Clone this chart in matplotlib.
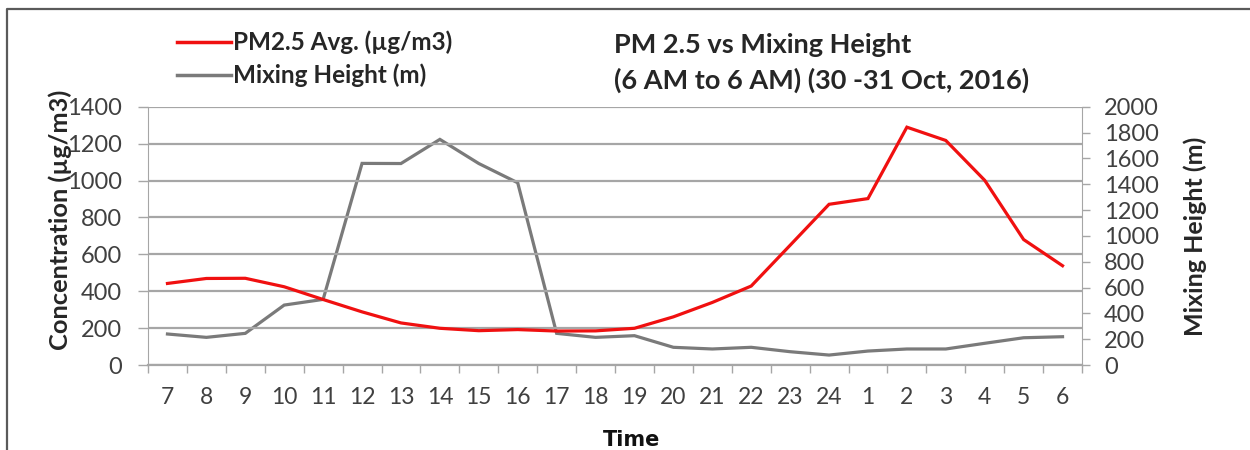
import matplotlib
matplotlib.use("Agg")
import matplotlib.pyplot as plt
from matplotlib.lines import Line2D
import numpy as np

# Hourly observations, 6 AM 30 Oct to 6 AM 31 Oct 2016
hours = ["7", "8", "9", "10", "11", "12", "13", "14", "15", "16", "17", "18",
         "19", "20", "21", "22", "23", "24", "1", "2", "3", "4", "5", "6"]
pm25 = [442, 469, 470, 424, 355, 288, 228, 199, 186, 192, 184, 185,
        199, 261, 339, 428, 649, 871, 902, 1289, 1217, 1001, 680, 538]
mixing_height = [240, 214, 245, 464, 508, 1561, 1560, 1747, 1560, 1411, 245, 214,
                 227, 137, 124, 137, 103, 77, 108, 124, 124, 168, 211, 219]

left_ticks = [0, 200, 400, 600, 800, 1000, 1200, 1400]
right_ticks = [0, 200, 400, 600, 800, 1000, 1200, 1400, 1600, 1800, 2000]

FONT = "Lato"
AX_GRAY = "#a6a6a6"
TXT = "#404040"
LBL = "#262626"
W, H = 1250, 450


def fx(px):
    return px / W


def fy(py):
    return 1 - py / H


fig = plt.figure(figsize=(12.5, 4.5), dpi=100)
ax = fig.add_axes([fx(148), fy(365), fx(1082 - 148), (365 - 106.7) / H])
ax2 = ax.twinx()

x = np.arange(len(hours))
ax.plot(x, pm25, color="#f01010", lw=2.3, zorder=4, solid_joinstyle="miter")
ax2.plot(x, mixing_height, color="#7a7a7a", lw=2.3, zorder=3, solid_joinstyle="miter")
ax.set_zorder(ax2.get_zorder() + 1)
ax.patch.set_visible(False)

ax.set_xlim(-0.5, len(hours) - 0.5)
ax.set_ylim(0, 1400)
ax2.set_ylim(0, 2000)

ax.set_yticks(left_ticks)
ax2.set_yticks(right_ticks)
ax.grid(axis="y", color=AX_GRAY, lw=1.6)
ax.set_axisbelow(True)

# category labels centred, tick marks on category boundaries
ax.set_xticks(x)
ax.set_xticklabels(hours)
ax.set_xticks(np.arange(-0.5, len(hours)), minor=True)
ax.tick_params(axis="x", which="major", length=0, pad=16)
ax.tick_params(axis="x", which="minor", length=6, width=1, color=AX_GRAY, direction="out")
ax.tick_params(axis="y", length=7, width=1, color=AX_GRAY, pad=12)
ax2.tick_params(axis="y", length=6, width=1, color=AX_GRAY, pad=10)

for a in (ax, ax2):
    for s in a.spines.values():
        s.set_visible(False)
ax.spines["left"].set_visible(True)
ax.spines["left"].set_color(AX_GRAY)
ax.spines["bottom"].set_visible(True)
ax.spines["bottom"].set_color(AX_GRAY)
ax.spines["bottom"].set_linewidth(1.6)
ax2.spines["right"].set_visible(True)
ax2.spines["right"].set_color(AX_GRAY)

for lab in ax.get_yticklabels() + ax2.get_yticklabels():
    lab.set_fontfamily(FONT)
    lab.set_fontsize(17)
    lab.set_color(TXT)
for lab in ax.get_xticklabels():
    lab.set_fontfamily(FONT)
    lab.set_fontsize(16.5)
    lab.set_color(TXT)

# axis titles
fig.text(fx(60), fy(220), "Concentration (µg/m3)", rotation=90, ha="center", va="center",
         fontfamily=FONT, fontsize=18.3, fontweight="bold", color=LBL)
fig.text(fx(1195), fy(236), "Mixing Height (m)", rotation=90, ha="center", va="center",
         fontfamily=FONT, fontsize=18, fontweight="bold", color=LBL)
fig.text(fx(632), fy(440), "Time", ha="center", va="center",
         fontfamily="Liberation Sans Narrow", fontsize=15, fontweight="bold", color="#111111")

# legend drawn as lines + text at the top left
for yy, col, label in [(42, "#f01010", "PM2.5 Avg. (µg/m3)"),
                       (75, "#7a7a7a", "Mixing Height (m)")]:
    fig.add_artist(Line2D([fx(177), fx(231)], [fy(yy)] * 2,
                          transform=fig.transFigure, color=col, lw=2.5))
    fig.text(fx(233), fy(yy), label, ha="left", va="center", fontfamily=FONT,
             fontsize=17.5, fontweight="bold", color=LBL)

fig.text(fx(614), fy(45), "PM 2.5 vs Mixing Height", ha="left", va="center",
         fontfamily=FONT, fontsize=19.5, fontweight="bold", color=LBL)
fig.text(fx(614), fy(80), "(6 AM to 6 AM) (30 -31 Oct, 2016)", ha="left",
         va="center", fontfamily=FONT, fontsize=19.5, fontweight="bold", color=LBL)

# outer frame (left and top edges)
fig.add_artist(Line2D([fx(7), fx(7), 1.0], [0.0, fy(9), fy(9)],
                      transform=fig.transFigure, color="#5a5a5a", lw=1.6))

fig.savefig("out.png", dpi=100)
